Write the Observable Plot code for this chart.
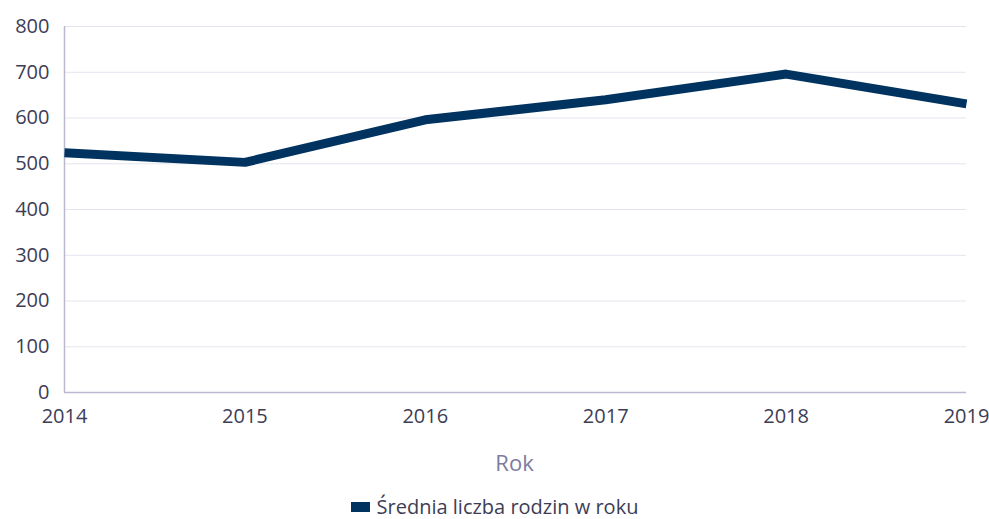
<!DOCTYPE html>
<html>
<head>
<meta charset="utf-8">
<script src="https://cdn.jsdelivr.net/npm/d3@7"></script>
<script src="https://cdn.jsdelivr.net/npm/@observablehq/plot@0.6"></script>
<style>
  html, body { margin: 0; background: #fff; font-family: "Open Sans", "Noto Sans", sans-serif; overflow: hidden; }
  #wrap { width: 989px; }
  #xlabel { margin-top: 18px; line-height: 24px; height: 24px; text-align: center; padding-left: 40px; font-size: 22px; color: #7c7ca0; }
  #legend { margin-top: 23px; line-height: 20px; height: 20px; display: flex; justify-content: center; align-items: center; font-size: 20px; color: #3d3d56; }
  #legend .sw { width: 19px; height: 10px; background: #00335f; margin-right: 7px; }
</style>
</head>
<body>
<div id="wrap">
  <div id="chart"></div>
  <div id="xlabel"></div>
  <div id="legend"></div>
</div>
<script>
const years = [2014, 2015, 2016, 2017, 2018, 2019];
const values = [524, 503, 596, 640, 696, 631];
const yTicks = [0, 100, 200, 300, 400, 500, 600, 700, 800];
const seriesName = "Średnia liczba rodzin w roku";
const xTitle = "Rok";

const data = years.map((y, i) => ({year: y, value: values[i]}));
const lineColor = "#00335f";
const textColor = "#3d3d56";

const chart = Plot.plot({
  width: 989,
  height: 432,
  marginLeft: 64,
  marginRight: 23,
  marginTop: 26,
  marginBottom: 40,
  style: { fontFamily: "'Open Sans', 'Noto Sans', sans-serif", fontSize: "20px", color: textColor, background: "#fff" },
  x: { type: "linear", domain: [years[0], years[years.length - 1]], ticks: years, tickFormat: d3.format("d"), label: null },
  y: { domain: [yTicks[0], yTicks[yTicks.length - 1]], ticks: yTicks, label: null },
  marks: [
    Plot.ruleY(yTicks.filter(d => d > 0), { stroke: "#e4e4ee", strokeWidth: 1 }),
    Plot.ruleY([yTicks[0]], { stroke: "#b9b9cf", strokeWidth: 1.5 }),
    Plot.ruleX([years[0]], { stroke: "#b9b9cf", strokeWidth: 1.5 }),
    Plot.axisY({ ticks: yTicks, tickSize: 0, tickPadding: 15, fontSize: 20, fill: textColor, label: null }),
    Plot.axisX({ ticks: years, tickFormat: d3.format("d"), tickSize: 0, tickPadding: 16, fontSize: 20, fill: textColor, label: null }),
    Plot.line(data, { x: "year", y: "value", stroke: lineColor, strokeWidth: 9, strokeLinejoin: "miter", strokeLinecap: "butt" })
  ]
});
document.getElementById("chart").appendChild(chart);
document.getElementById("xlabel").textContent = xTitle;
const lg = document.getElementById("legend");
const sw = document.createElement("span"); sw.className = "sw";
const tx = document.createElement("span"); tx.textContent = seriesName;
lg.appendChild(sw); lg.appendChild(tx);
</script>
</body>
</html>
